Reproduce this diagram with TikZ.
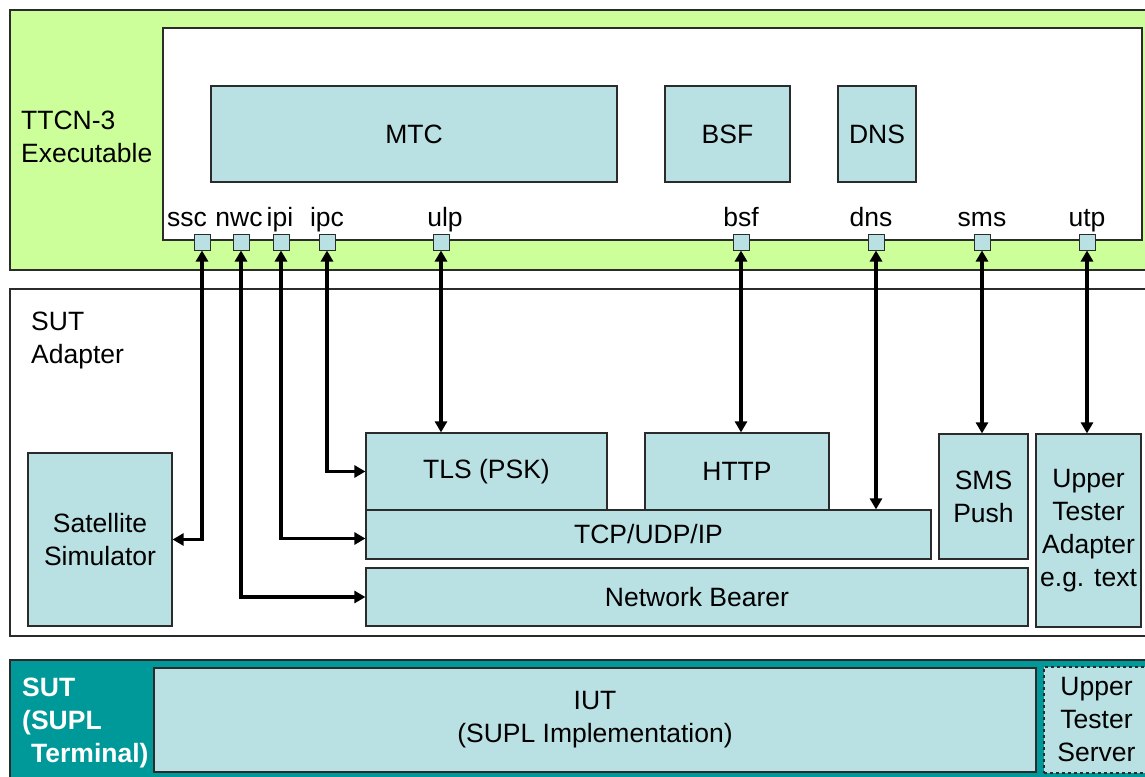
\documentclass[tikz,border=0pt]{standalone}
\usepackage{fontspec}
\setmainfont{Liberation Sans}
\usetikzlibrary{arrows.meta}
\definecolor{greenfill}{HTML}{CCFF99}
\definecolor{boxfill}{HTML}{B9E0E3}
\definecolor{tealfill}{HTML}{009999}
\definecolor{linecol}{HTML}{2B2B2B}
\newcommand{\dfont}{\fontsize{26.5}{33}\selectfont}
\tikzset{
  frame/.style={draw=linecol, line width=1.2pt, inner sep=0pt},
  box/.style={draw=linecol, fill=boxfill, line width=1.2pt, inner sep=0pt, align=center, font=\dfont},
  port/.style={draw=linecol, fill=boxfill, line width=1pt, inner sep=0pt, minimum width=16pt, minimum height=16pt},
  plabel/.style={inner sep=0pt, anchor=base, font=\dfont},
  title/.style={inner sep=0pt, anchor=west, align=left, font=\dfont},
  link/.style={line width=3.6pt, {Triangle[length=11pt,width=12pt]}-{Triangle[length=11pt,width=12pt]}}
}
\begin{document}
\begin{tikzpicture}[x=1pt,y=-1pt]
\useasboundingbox (0,0) rectangle (1145,776);
\clip (0,0) rectangle (1145,776);
\fill[white] (0,0) rectangle (1145,776);
% TTCN-3 executable
\node[frame, fill=greenfill, minimum width=1145pt, minimum height=260pt] (exec) at (582.5,140) {};
\node[frame, fill=white, minimum width=979pt, minimum height=212pt] (inner) at (652.5,134) {};
\node[title] (ttcn) at (21,137) {TTCN-3\\Executable};
\node[box, minimum width=406pt, minimum height=96pt] (mtc) at (414,134) {MTC};
\node[box, minimum width=125pt, minimum height=96pt] (bsfb) at (727.5,134) {BSF};
\node[box, minimum width=78pt, minimum height=96pt] (dnsb) at (877,134) {DNS};
% ports
\node[port] (pssc) at (202,242) {};
\node[port] (pnwc) at (241,242) {};
\node[port] (pipi) at (281,242) {};
\node[port] (pipc) at (327,242) {};
\node[port] (pulp) at (441,242) {};
\node[port] (pbsf) at (741,242) {};
\node[port] (pdns) at (876,242) {};
\node[port] (psms) at (982,242) {};
\node[port] (putp) at (1087,242) {};
\node[plabel] (lssc) at (187,226) {ssc};
\node[plabel] (lnwc) at (239,226) {nwc};
\node[plabel] (lipi) at (280,226) {ipi};
\node[plabel] (lipc) at (327,226) {ipc};
\node[plabel] (lulp) at (445,226) {ulp};
\node[plabel] (lbsf) at (741,226) {bsf};
\node[plabel] (ldns) at (871,226) {dns};
\node[plabel] (lsms) at (982,226) {sms};
\node[plabel] (lutp) at (1087,226) {utp};
% SUT adapter
\node[frame, fill=white, minimum width=1145pt, minimum height=347pt] (adapter) at (582.5,462.5) {};
\node[title] (sutad) at (31,340) {SUT\\Adapter};
\node[box, minimum width=144pt, minimum height=173pt] (sat) at (100,539.5) {Satellite\\Simulator};
\node[box, minimum width=241pt, minimum height=77pt] (tls) at (486.5,471.5) {TLS (PSK)};
\node[box, minimum width=184pt, minimum height=77pt] (http) at (737,471.5) {HTTP};
\node[box, minimum width=565pt, minimum height=49pt] (tcp) at (648.5,534.5) {TCP/UDP/IP};
\node[box, minimum width=662pt, minimum height=58pt] (nb) at (697,597) {Network Bearer};
\node[box, minimum width=89pt, minimum height=125pt] (sms) at (983.5,496.5) {SMS\\Push};
\node[box, minimum width=105pt, minimum height=193pt] (uta) at (1088.5,530.5) {Upper\\Tester\\Adapter\\e.g. text};
% SUT
\node[frame, fill=tealfill, minimum width=1145pt, minimum height=130pt] (sut) at (582.5,725) {};
\node[title, text=white, font=\dfont\bfseries] (sutl) at (22,723) {SUT\\(SUPL\\\hspace*{9pt}Terminal)};
\node[box, minimum width=882pt, minimum height=104pt] (iut) at (595,720) {IUT\\(SUPL Implementation)};
\node[box, dashed, minimum width=105pt, minimum height=106pt] (uts) at (1096.5,720) {Upper\\Tester\\Server};
% connectors
\draw[link] (pssc.south) |- (sat.east);
\draw[link] (pnwc.south) |- (nb.west);
\draw[link] (pipi.south) |- ([yshift=-4pt]tcp.west);
\draw[link] (pipc.south) |- (tls.west);
\draw[link] (pulp.south) -- (pulp.south |- tls.north);
\draw[link] (pbsf.south) -- (pbsf.south |- http.north);
\draw[link] (pdns.south) -- (pdns.south |- tcp.north);
\draw[link] (psms.south) -- (psms.south |- sms.north);
\draw[link] (putp.south) -- (putp.south |- uta.north);
\end{tikzpicture}
\end{document}
